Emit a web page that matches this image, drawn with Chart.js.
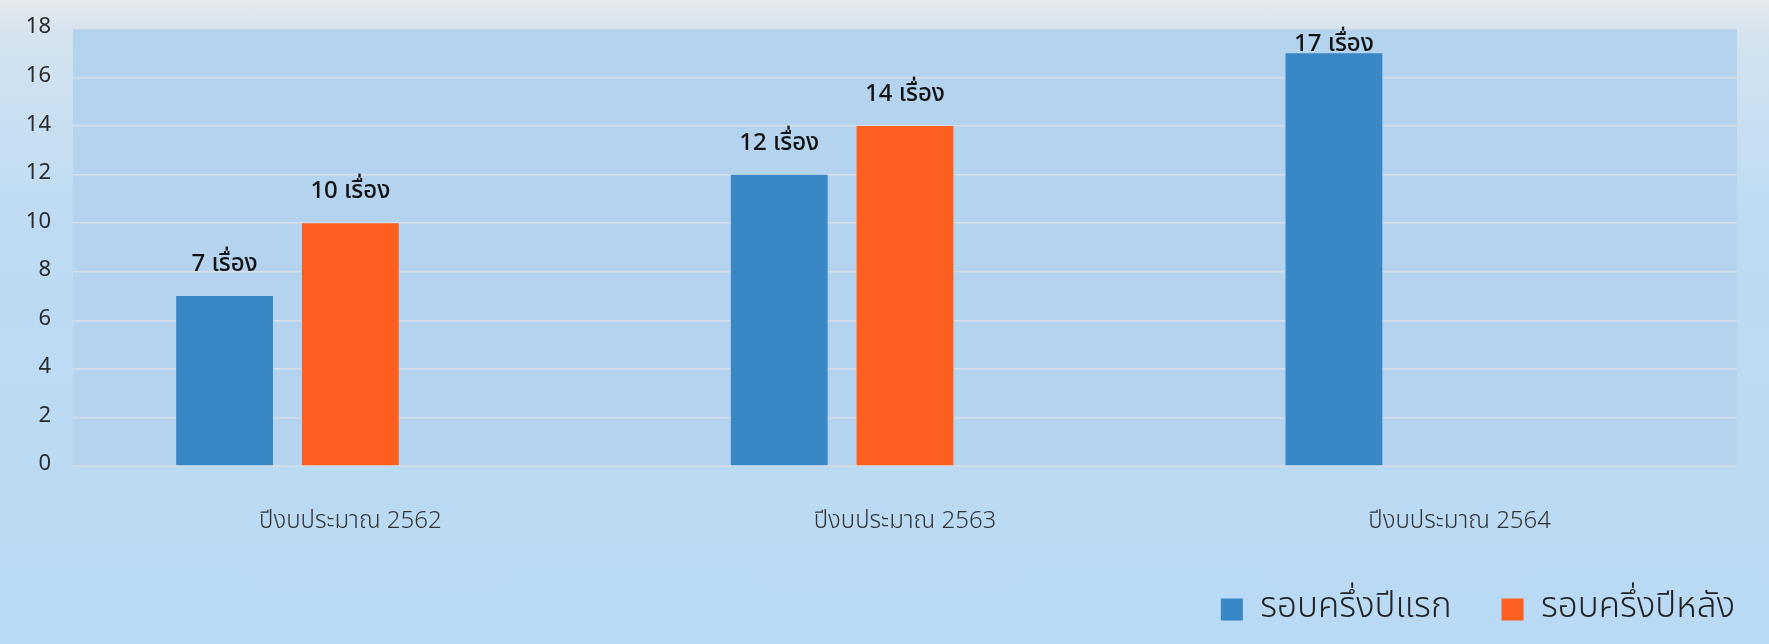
<!DOCTYPE html>
<html>
<head>
<meta charset="utf-8">
<script src="https://cdn.jsdelivr.net/npm/chart.js@4.4.1/dist/chart.umd.min.js"></script>
<style>
  html, body { margin: 0; padding: 0; }
  body {
    width: 1769px; height: 644px; overflow: hidden;
    background: linear-gradient(180deg, #e4e9ec 0%, #d3e3ef 6%, #bddbf3 35%, #b9daf5 100%);
  }
  canvas { display: block; }
</style>
</head>
<body>
<canvas id="c" width="1769" height="644"></canvas>
<script>
const categories = ['ปีงบประมาณ 2562', 'ปีงบประมาณ 2563', 'ปีงบประมาณ 2564'];
const seriesNames = ['รอบครึ่งปีแรก', 'รอบครึ่งปีหลัง'];
const firstHalf = [7, 12, 17];
const secondHalf = [10, 14, null];
const emptySlot = [null, null, null];
const unitWord = 'เรื่อง';
const yTicks = [0, 2, 4, 6, 8, 10, 12, 14, 16, 18];

const FONT = '"Noto Sans Thai", "Noto Sans", "DejaVu Sans", sans-serif';
const LEGEND_PAD = 50;

const plotBg = {
  id: 'plotBg',
  beforeDraw(chart) {
    const { ctx, chartArea: a } = chart;
    ctx.save();
    ctx.fillStyle = '#b3d3ef';
    ctx.fillRect(a.left, a.top, a.right - a.left, a.bottom - a.top);
    ctx.restore();
  }
};

const legendTweak = {
  id: 'legendTweak',
  afterLayout(chart) {
    const lg = chart.legend;
    if (lg) { lg.left += LEGEND_PAD - 2; lg.right += LEGEND_PAD - 2; }
  }
};

const valueLabels = {
  id: 'valueLabels',
  afterDatasetsDraw(chart) {
    const { ctx, chartArea } = chart;
    ctx.save();
    ctx.font = '500 24px ' + FONT;
    ctx.fillStyle = '#111';
    ctx.textAlign = 'center';
    ctx.textBaseline = 'middle';
    [0, 1].forEach(di => {
      const meta = chart.getDatasetMeta(di);
      const ds = chart.data.datasets[di];
      meta.data.forEach((bar, i) => {
        const v = ds.data[i];
        if (v === null || v === undefined) return;
        const y = Math.max(bar.y - 30, chartArea.top + 17);
        ctx.fillText(v + ' ' + unitWord, bar.x, y);
      });
    });
    ctx.restore();
  }
};

new Chart(document.getElementById('c'), {
  type: 'bar',
  data: {
    labels: categories,
    datasets: [
      { label: seriesNames[0], data: firstHalf, backgroundColor: '#3a87c6' },
      { label: seriesNames[1], data: secondHalf, backgroundColor: '#fd5f1f' },
      { label: '', data: emptySlot, backgroundColor: 'rgba(0,0,0,0)' }
    ]
  },
  options: {
    responsive: false,
    animation: false,
    devicePixelRatio: 1,
    categoryPercentage: 0.68,
    barPercentage: 0.77,
    layout: { padding: { left: 0, right: 32, top: 0, bottom: 7 } },
    plugins: {
      legend: {
        position: 'bottom',
        align: 'end',
        labels: {
          filter: item => item.text !== '',
          boxWidth: 22,
          boxHeight: 22,
          padding: LEGEND_PAD,
          color: '#222',
          font: { family: FONT, size: 35, weight: '300' }
        }
      },
      tooltip: { enabled: false }
    },
    scales: {
      x: {
        grid: { display: false },
        border: { display: false },
        afterFit: axis => { axis.height = 76; },
        ticks: {
          color: '#333',
          padding: 35,
          font: { family: FONT, size: 24, weight: '300' }
        }
      },
      y: {
        min: 0,
        max: 18,
        afterBuildTicks: axis => { axis.ticks = yTicks.map(v => ({ value: v })); },
        afterFit: axis => { axis.width = 73; axis.paddingTop = 29; },
        grid: { color: '#d9dee6', lineWidth: 1.5, drawTicks: false },
        border: { display: false },
        ticks: {
          color: '#2a2a2a',
          padding: 22,
          font: { family: FONT, size: 22 }
        }
      }
    }
  },
  plugins: [plotBg, legendTweak, valueLabels]
});
</script>
</body>
</html>
